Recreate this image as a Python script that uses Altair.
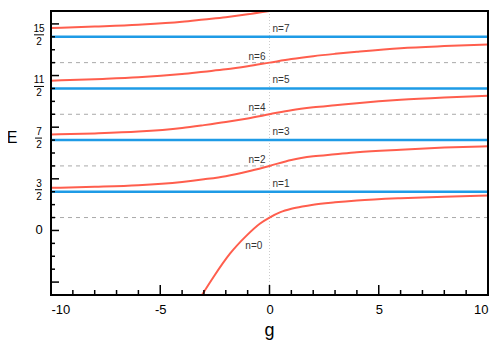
import altair as alt
import pandas as pd

# ---- data ----
g_n0 = [-3.15, -2.57, -1.81, -1.04, -0.43, 0, 0.5, 1, 1.5, 2, 3, 4, 6, 8, 10]
E_n0 = [-2.58, -1.81, -0.90, -0.19, 0.27, 0.50, 0.71, 0.84, 0.93, 1.00, 1.09, 1.16, 1.25, 1.31, 1.35]
g_mid = [-10, -8, -6, -4, -3, -2, -1, 0, 1, 2, 3, 4, 6, 8, 10]
E_n2 = [1.65, 1.69, 1.75, 1.88, 1.98, 2.10, 2.28, 2.50, 2.73, 2.87, 2.95, 3.03, 3.13, 3.21, 3.26]
E_n4 = [3.72, 3.76, 3.83, 3.97, 4.08, 4.20, 4.34, 4.50, 4.66, 4.77, 4.85, 4.93, 5.06, 5.15, 5.22]
E_n6 = [5.80, 5.86, 5.93, 6.06, 6.15, 6.24, 6.36, 6.50, 6.64, 6.75, 6.84, 6.92, 7.06, 7.14, 7.20]
g_n8 = [-10, -8, -6, -4, -3, -2, -1, 0]
E_n8 = [7.84, 7.90, 7.97, 8.08, 8.17, 8.26, 8.37, 8.50]

odd_levels = [1.5, 3.5, 5.5, 7.5]
odd_labels = ["n=1", "n=3", "n=5", "n=7"]
even_levels = [0.5, 2.5, 4.5, 6.5]
even_labels = ["n=0", "n=2", "n=4", "n=6"]

frac_values = [1.5, 3.5, 5.5, 7.5]
frac_num = ["3", "7", "11", "15"]
frac_den = ["2", "2", "2", "2"]

y_major_ticks = [-2, 0, 2, 4, 6, 8]
y_minor_ticks = [-1.5, -1, -0.5, 0.5, 1, 1.5, 2.5, 3, 3.5, 4.5, 5, 5.5, 6.5, 7, 7.5]
x_major_ticks = [-10, -5, 0, 5, 10]
x_minor_ticks = [-9, -8, -7, -6, -4, -3, -2, -1, 1, 2, 3, 4, 6, 7, 8, 9]

W, H = 437, 284
FONT = "Liberation Sans"
RED = "#ff5e4d"
BLUE = "#1e9be6"

curves = pd.concat([
    pd.DataFrame({"g": g_n0, "E": E_n0, "k": "0"}),
    pd.DataFrame({"g": g_mid, "E": E_n2, "k": "2"}),
    pd.DataFrame({"g": g_mid, "E": E_n4, "k": "4"}),
    pd.DataFrame({"g": g_mid, "E": E_n6, "k": "6"}),
    pd.DataFrame({"g": g_n8, "E": E_n8, "k": "8"}),
])

xs = alt.Scale(domain=[-10, 10], nice=False, zero=False)
ys = alt.Scale(domain=[-2.5, 8.5], nice=False, zero=False)
xaxis = alt.Axis(values=x_major_ticks, ticks=False, domain=False, grid=False,
                 labelFontSize=13, labelFont=FONT, labelColor="black", labelPadding=8,
                 title=None, labelExpr="'' + datum.value")
yaxis = alt.Axis(labels=False, ticks=False, domain=False, grid=False, title=None)
X = alt.X("g:Q", scale=xs, axis=xaxis)
Y = alt.Y("E:Q", scale=ys, axis=yaxis)

one = pd.DataFrame({"a": [0]})

zero_line = alt.Chart(pd.DataFrame({"g": [0]})).mark_rule(
    color="#cccccc", strokeWidth=1, strokeDash=[1, 2]).encode(x=X)

dashed = alt.Chart(pd.DataFrame({"E": even_levels})).mark_rule(
    color="#aaaaaa", strokeWidth=1, strokeDash=[4, 4]).encode(y=Y)

blue = alt.Chart(pd.DataFrame({"E": odd_levels})).mark_rule(
    color=BLUE, strokeWidth=2.5).encode(y=Y)

lines = alt.Chart(curves).mark_line(
    color=RED, strokeWidth=2, interpolate="monotone", clip=True).encode(
    x=X, y=Y, detail="k:N")

odd_text = alt.Chart(pd.DataFrame({"E": odd_levels, "t": odd_labels, "g": [0] * 4})).mark_text(
    align="left", baseline="middle", dx=3, dy=-8, fontSize=10, font=FONT, color="#333333").encode(
    x=X, y=Y, text="t:N")

even_df = pd.DataFrame({"E": even_levels[1:], "t": even_labels[1:], "g": [0] * 3})
even_text = alt.Chart(even_df).mark_text(
    align="right", baseline="middle", dx=-4, dy=-6, fontSize=10, font=FONT, color="#333333").encode(
    x=X, y=Y, text="t:N")

n0_text = alt.Chart(pd.DataFrame({"E": [-0.6], "t": [even_labels[0]], "g": [-0.33]})).mark_text(
    align="right", baseline="middle", fontSize=10, font=FONT, color="#333333").encode(
    x=X, y=Y, text="t:N")

# tick marks drawn inside the frame
ytm = alt.Chart(pd.DataFrame({"E": y_major_ticks})).mark_rule(color="black", strokeWidth=1.5).encode(
    y=Y, x=alt.value(0), x2=alt.value(8))
ytn = alt.Chart(pd.DataFrame({"E": y_minor_ticks})).mark_rule(color="black", strokeWidth=1.5).encode(
    y=Y, x=alt.value(0), x2=alt.value(4))
xtm = alt.Chart(pd.DataFrame({"g": x_major_ticks})).mark_rule(color="black", strokeWidth=1.5).encode(
    x=X, y=alt.value(H), y2=alt.value(H - 10))
xtn = alt.Chart(pd.DataFrame({"g": x_minor_ticks})).mark_rule(color="black", strokeWidth=1.5).encode(
    x=X, y=alt.value(H), y2=alt.value(H - 5))

frame = alt.Chart(one).mark_rect(fillOpacity=0, stroke="black", strokeWidth=2).encode(
    x=alt.value(0), x2=alt.value(W), y=alt.value(0), y2=alt.value(H))

# y labels: 0 and fractions
frac_df = pd.DataFrame({"E": frac_values, "num": frac_num, "den": frac_den})
frac_df["len"] = frac_df["num"].str.len()
zero_lab = alt.Chart(pd.DataFrame({"E": [0], "t": ["0"]})).mark_text(
    align="center", baseline="middle", fontSize=13, font=FONT, color="black").encode(
    y=Y, x=alt.value(-12), text="t:N")
num_t = alt.Chart(frac_df).mark_text(
    align="center", baseline="middle", fontSize=10, font=FONT, color="black", dy=-8).encode(
    y=Y, x=alt.value(-12), text="num:N")
den_t = alt.Chart(frac_df).mark_text(
    align="center", baseline="middle", fontSize=10, font=FONT, color="black", dy=5).encode(
    y=Y, x=alt.value(-12), text="den:N")
bar1 = alt.Chart(frac_df).transform_filter("datum.len == 1").mark_rule(
    color="black", strokeWidth=1, yOffset=-2).encode(y=Y, x=alt.value(-16), x2=alt.value(-9))
bar2 = alt.Chart(frac_df).transform_filter("datum.len == 2").mark_rule(
    color="black", strokeWidth=1, yOffset=-2).encode(y=Y, x=alt.value(-17), x2=alt.value(-7))

# axis titles
e_title = alt.Chart(pd.DataFrame({"t": ["E"]})).mark_text(
    align="center", baseline="middle", fontSize=16, font=FONT, color="black").encode(
    x=alt.value(-39), y=alt.value(127), text="t:N")
g_title = alt.Chart(pd.DataFrame({"t": ["g"]})).mark_text(
    align="center", baseline="alphabetic", fontSize=18, font=FONT, color="black").encode(
    x=alt.value(W / 2), y=alt.value(H + 41), text="t:N")

chart = alt.layer(
    zero_line, dashed, blue, lines, odd_text, even_text, n0_text,
    ytm, ytn, xtm, xtn, frame, zero_lab, num_t, den_t, bar1, bar2, e_title, g_title
).properties(
    width=W, height=H,
    autosize=alt.AutoSizeParams(type="none"),
    padding={"left": 43, "top": 3, "right": 3, "bottom": 49},
    background="white",
).configure_view(strokeWidth=0)

chart.save("out.html", embed_options={"renderer": "svg", "actions": False})
